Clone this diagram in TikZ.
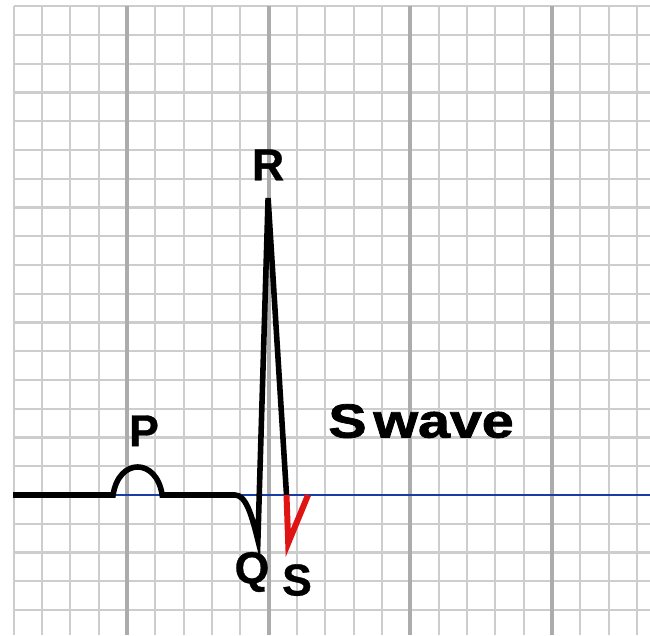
\documentclass[tikz,border=0pt]{standalone}
\usepackage{fontspec}
\setsansfont{Liberation Sans}
\newfontfamily\heavysans{Liberation Sans}[UprightFeatures={FakeBold=1.6},BoldFeatures={FakeBold=1.6}]
\newfontfamily\labelsans{Liberation Sans}[UprightFeatures={FakeBold=0.7},BoldFeatures={FakeBold=0.7}]
\definecolor{gridline}{RGB}{205,205,205}
\definecolor{gridbold}{RGB}{172,172,172}
\definecolor{isoline}{RGB}{25,60,165}
\definecolor{swave}{RGB}{225,20,20}
\begin{document}
\begin{tikzpicture}[x=0.5cm, y=0.5074cm,
    minor/.style={draw=gridline, line width=1.1pt},
    major/.style={draw=gridbold, line width=2pt},
    trace/.style={line width=2.8pt},
    lbl/.style={font=\labelsans\bfseries\fontsize{22.4}{26}\selectfont, inner sep=0pt},
  ]
  \useasboundingbox (-4.483,-4.87) rectangle (18.46,17.217);
  \fill[white] (-4.483,-4.87) rectangle (18.46,17.217);

  % ECG paper
  \foreach \x in {-4,...,18}
    \draw[minor] (\x,-4.87) -- (\x,17);
  \foreach \y in {-4,...,17}
    \draw[minor] (-4,\y) -- (18.46,\y);
  \foreach \x in {0,5,10,15}
    \draw[major] (\x,-4.87) -- (\x,17);

  % isoelectric line
  \draw[isoline, line width=1.1pt] (-0.5,0) -- (18.46,0);

  % P-QRS trace
  \coordinate (start) at (-4.02,0);
  \coordinate (Pon) at (-0.49,0);
  \coordinate (Poff) at (1.24,0);
  \coordinate (Qon) at (3.81,0);
  \coordinate (Q) at (4.62,-1.57);
  \coordinate (R) at (4.98,10.33);
  \coordinate (Son) at (5.63,0);
  \coordinate (S) at (5.69,-1.67);
  \coordinate (Soff) at (6.39,0);
  \draw[trace] (start) -- (Pon) .. controls (-0.3,1.3) and (1.05,1.3) .. (Poff)
    -- (Qon) .. controls (4.2,0) and (4.4,-0.7) .. (Q) -- (R) -- (Son);

  % S wave in red
  \draw[trace, swave, line width=3pt] (Son) -- (S) -- (Soff);

  % labels
  \node[lbl] (Rlabel) at (4.98,11.48) {R};
  \node[lbl] (Plabel) at (0.60,2.23) {P};
  \node[lbl] (Qlabel) at (4.41,-2.68) {Q};
  \node[lbl] (Slabel) at (6.0,-2.96) {S};
  \node[lbl, font=\heavysans\bfseries\fontsize{24}{28}\selectfont, xscale=1.2]
    (swavelabel) at (10.38,2.57) {S\hspace{0.12em}wave};
\end{tikzpicture}
\end{document}
